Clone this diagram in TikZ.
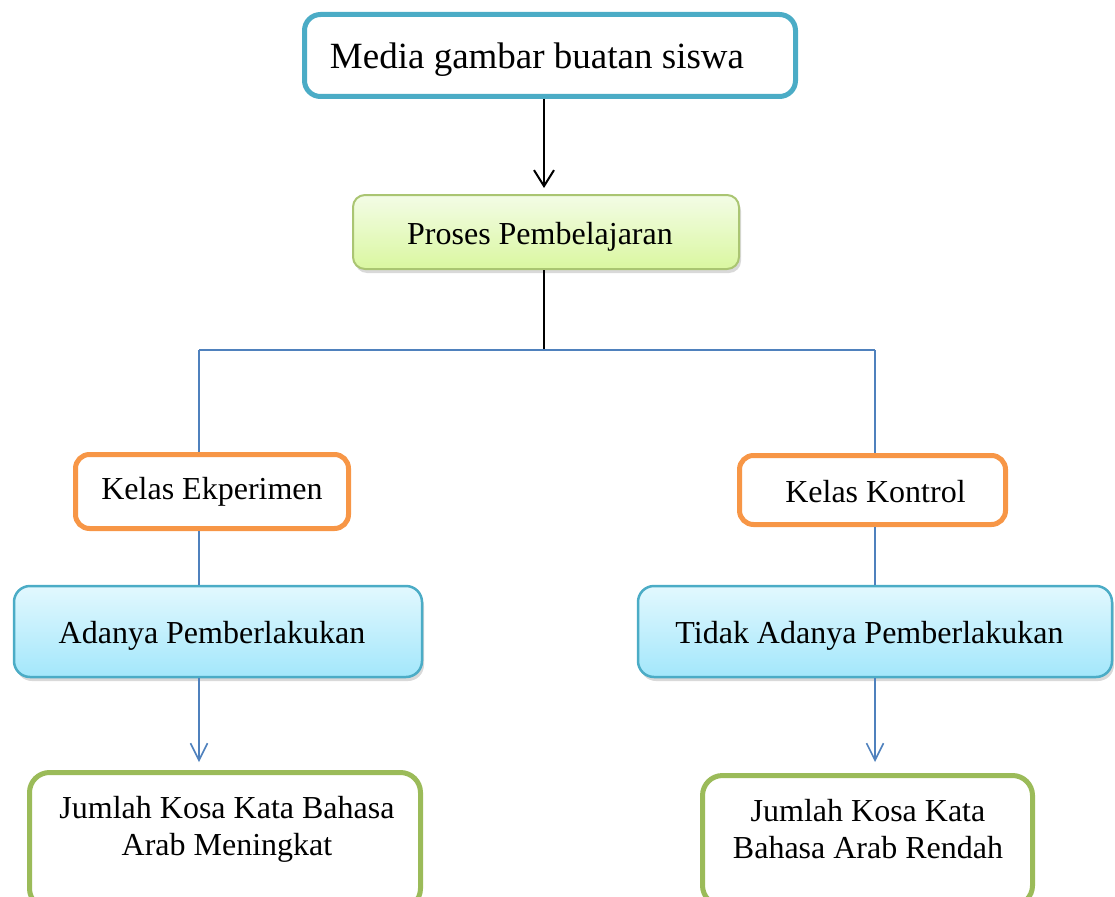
\documentclass[tikz,border=0pt]{standalone}
\usepackage{fontspec}
\setmainfont{Liberation Serif}
\usetikzlibrary{arrows.meta,shadows}
\definecolor{teal1}{HTML}{4BACC6}
\definecolor{orange1}{HTML}{F79646}
\definecolor{green1}{HTML}{9BBB59}
\definecolor{blue1}{HTML}{4F81BD}
\definecolor{greenTop}{HTML}{F3FCE6}
\definecolor{greenBot}{HTML}{DAF7A0}
\definecolor{cyanTop}{HTML}{E2F8FE}
\definecolor{cyanBot}{HTML}{A3E7FB}
\tikzset{
  txt/.style={font=\fontsize{32}{37}\selectfont, align=center, inner sep=0pt},
  one/.style={txt, text height=24pt, text depth=0pt},
  topbox/.style={draw=teal1, line width=5pt, rounded corners=16pt, fill=white, txt},
  probox/.style={draw=green1!85!white, line width=2pt, rounded corners=12pt,
     top color=greenTop, bottom color=greenBot, one,
     drop shadow={shadow xshift=2pt, shadow yshift=-4pt, opacity=0.3, fill=gray}},
  kelbox/.style={draw=orange1, line width=5pt, rounded corners=14pt, fill=white, one},
  cyanbox/.style={draw=teal1, line width=2.5pt, rounded corners=16pt,
     top color=cyanTop, bottom color=cyanBot, one,
     drop shadow={shadow xshift=2pt, shadow yshift=-4pt, opacity=0.3, fill=gray}},
  resbox/.style={draw=green1, line width=5pt, rounded corners=20pt, fill=white},
  blk/.style={draw=black, line width=2pt},
  blu/.style={draw=blue1, line width=1.6pt},
  tipB/.style={-{Straight Barb[length=16pt,width=20pt,line width=2pt]}},
  tipU/.style={-{Straight Barb[length=17pt,width=17pt,line width=1.6pt]}},
}
\begin{document}
\begin{tikzpicture}[x=1pt,y=-1pt]
\useasboundingbox (0,0) rectangle (1115,896);
\clip (0,0) rectangle (1115,896);
\node[topbox, text height=27pt, text depth=0pt, minimum width=491pt, minimum height=82pt] (top) at (550,55.5) {\hspace*{-26pt}\fontsize{37}{44}\selectfont Media gambar buatan siswa};
\node[probox, minimum width=386pt, minimum height=74pt] (pro) at (546,232) {\hspace*{-12pt}Proses Pembelajaran};
\node[kelbox, text height=15pt, minimum width=273pt, minimum height=74pt] (ke) at (212,491.5) {Kelas Ekperimen};
\node[kelbox, minimum width=266pt, minimum height=69pt] (kk) at (872.5,490) {\hspace*{6pt}Kelas Kontrol};
\node[cyanbox, minimum width=408pt, minimum height=91pt] (ad) at (218,631.5) {\hspace*{-12pt}Adanya Pemberlakukan};
\node[cyanbox, minimum width=474pt, minimum height=91pt] (td) at (875,631.5) {\hspace*{-11pt}Tidak Adanya Pemberlakukan};
\node[resbox, minimum width=391pt, minimum height=136pt] (bl) at (225,840.5) {};
\node[txt] (blt) at (227,829) {Jumlah Kosa Kata Bahasa\\Arab Meningkat};
\node[resbox, minimum width=330pt, minimum height=130pt] (br) at (867.5,840.5) {};
\node[txt] (brt) at (868,829) {Jumlah Kosa Kata\\Bahasa Arab Rendah};
\coordinate (jm) at (544,350);
\coordinate (jl) at (199,350);
\coordinate (jr) at (875,350);
\draw[blk, tipB, shorten >=6pt] (top.south -| jm) -- (pro.north -| jm);
\draw[blk] (pro.south -| jm) -- (jm);
\draw[blu] (jl) -- (jr);
\draw[blu] (jl) -- (ke.north -| jl);
\draw[blu] (jr) -- (kk.north -| jr);
\draw[blu] (ke.south -| jl) -- (ad.north -| jl);
\draw[blu] (kk.south -| jr) -- (td.north -| jr);
\draw[blu, tipU, shorten >=8pt] (ad.south -| jl) -- (bl.north -| jl);
\draw[blu, tipU, shorten >=11pt] (td.south -| jr) -- (br.north -| jr);
\end{tikzpicture}
\end{document}
